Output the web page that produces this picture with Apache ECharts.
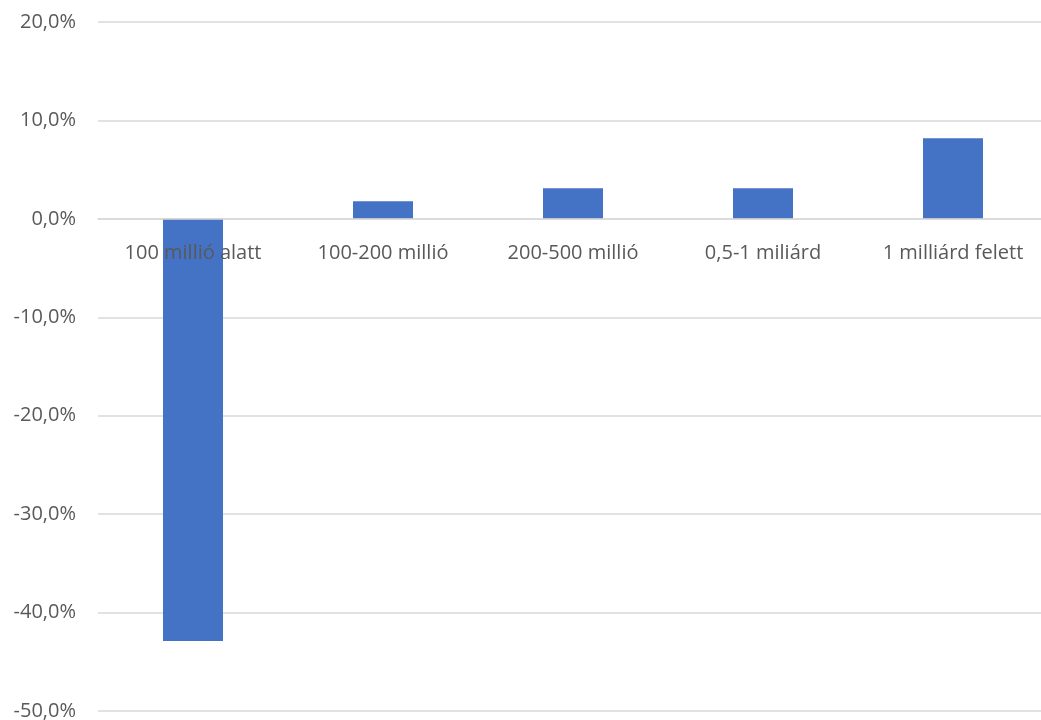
<!DOCTYPE html>
<html><head><meta charset="utf-8">
<script src="https://cdn.jsdelivr.net/npm/echarts@6/dist/echarts.min.js"></script>
<style>html,body{margin:0;padding:0;background:#fff}#c{width:1041px;height:720px}</style>
</head><body><div id="c"></div>
<script>
const categories = ['100 millió alatt', '100-200 millió', '200-500 millió', '0,5-1 miliárd', '1 milliárd felett'];
const values = [-42.9, 1.8, 3.1, 3.1, 8.2];
const yTicks = { min: -50, max: 20, interval: 10 };

const chart = echarts.init(document.getElementById('c'));
chart.setOption({
  animation: false,
  grid: { left: 98, right: -7, top: 22, bottom: 9, containLabel: false, outerBoundsMode: 'none' },
  xAxis: {
    type: 'category', data: categories, z: 5,
    axisLine: { onZero: true, lineStyle: { color: '#d9d9d9', width: 1.5 } },
    axisTick: { show: false },
    axisLabel: { color: '#595959', fontSize: 20, fontFamily: 'Open Sans', margin: -468, interval: 0 }
  },
  yAxis: {
    type: 'value', min: yTicks.min, max: yTicks.max, interval: yTicks.interval,
    axisLine: { show: false }, axisTick: { show: false },
    splitLine: { lineStyle: { color: '#d9d9d9', width: 1.5 } },
    axisLabel: { color: '#595959', fontSize: 20, fontFamily: 'Open Sans', margin: 22,
      formatter: v => v.toFixed(1).replace('.', ',') + '%' }
  },
  series: [{
    type: 'bar', data: values, barWidth: 60,
    itemStyle: { color: '#4472C4' }
  }]
});
</script></body></html>
